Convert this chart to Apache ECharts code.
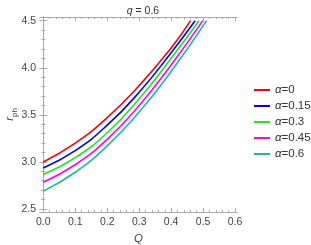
<!DOCTYPE html>
<html>
<head>
<meta charset="utf-8">
<script src="https://cdn.jsdelivr.net/npm/echarts@6/dist/echarts.min.js"></script>
<style>html,body{margin:0;padding:0;background:#fff}#c{width:311px;height:245px}</style>
</head>
<body>
<div id="c"></div>
<script>
// ---- data ----
const alphas = ['0', '0.15', '0.3', '0.45', '0.6'];
const qSamples = [0, 0.1, 0.2, 0.3, 0.4];
const rAlpha0 = [3.0, 3.20, 3.47, 3.81, 4.21];
const rAlpha015 = [2.936, 3.12, 3.39, 3.74, 4.16];
const rAlpha03 = [2.866, 3.045, 3.31, 3.67, 4.10];
const rAlpha045 = [2.785, 2.97, 3.24, 3.60, 4.03];
const rAlpha06 = [2.69, 2.89, 3.17, 3.53, 3.96];
const qEnd = [0.461, 0.475, 0.487, 0.499, 0.511];
const rEnd = 4.5;
const xMajor = [0, 0.1, 0.2, 0.3, 0.4, 0.5, 0.6];
const xMinor = [0.02,0.04,0.06,0.08,0.12,0.14,0.16,0.18,0.22,0.24,0.26,0.28,0.32,0.34,0.36,0.38,0.42,0.44,0.46,0.48,0.52,0.54,0.56,0.58];
const yMajor = [2.5, 3.0, 3.5, 4.0, 4.5];
const yMinor = [2.6,2.7,2.8,2.9,3.1,3.2,3.3,3.4,3.6,3.7,3.8,3.9,4.1,4.2,4.3,4.4];

const colors = ['#ff0000', '#0000ff', '#1ee61e', '#ff00ff', '#1fb3b3'];
const curves = [rAlpha0, rAlpha015, rAlpha03, rAlpha045, rAlpha06];

const X_MIN = -0.0103, X_MAX = 0.606, Y_MIN = 2.468, Y_MAX = 4.539;
const frameColor = '#aaaaaa';
const labelColor = '#444444';
const FONT = '"Liberation Sans", Arial, sans-serif';

function xAx(pos, vals, len, showLabel, name) {
  return {
    type: 'value', position: pos, min: X_MIN, max: X_MAX,
    axisLine: { show: true, lineStyle: { color: frameColor, width: 1 } },
    axisTick: { show: true, inside: true, length: len, customValues: vals, lineStyle: { color: frameColor } },
    axisLabel: showLabel ? { show: true, customValues: vals, margin: 5, color: labelColor, fontSize: 10.5, fontFamily: FONT,
      formatter: v => v.toFixed(1) } : { show: false },
    splitLine: { show: false },
    name: name || '', nameLocation: 'middle', nameGap: 19,
    nameTextStyle: { color: labelColor, fontSize: 11.5, fontFamily: FONT, fontStyle: 'italic' }
  };
}
function yAx(pos, vals, len, showLabel, name) {
  return {
    type: 'value', position: pos, min: Y_MIN, max: Y_MAX,
    axisLine: { show: true, lineStyle: { color: frameColor, width: 1 } },
    axisTick: { show: true, inside: true, length: len, customValues: vals, lineStyle: { color: frameColor } },
    axisLabel: showLabel ? { show: true, customValues: vals, margin: 4, color: labelColor, fontSize: 10.5, fontFamily: FONT,
      formatter: v => v.toFixed(1) } : { show: false },
    splitLine: { show: false },
    name: name || '', nameLocation: 'middle', nameGap: 21, nameRotate: 90, nameMoveOverlap: false,
    nameTextStyle: { color: labelColor, fontFamily: FONT,
      rich: { r: { fontSize: 11.5, fontStyle: 'italic', fontFamily: FONT, color: labelColor, padding: [0, 0, 3, 0] },
              s: { fontSize: 8, fontFamily: FONT, color: labelColor, verticalAlign: 'bottom' } } }
  };
}

const series = curves.map((arr, i) => ({
  name: 'α=' + alphas[i],
  type: 'line',
  xAxisIndex: 0, yAxisIndex: 0,
  data: qSamples.map((q, j) => [q, arr[j]]).concat([[qEnd[i], rEnd]]),
  smooth: 0.5,
  symbol: 'none',
  lineStyle: { color: colors[i], width: 1.6 },
  itemStyle: { color: colors[i] },
  z: 10 - i
}));

const chart = echarts.init(document.getElementById('c'), null, { renderer: 'canvas' });
chart.setOption({
  animation: false,
  backgroundColor: '#ffffff',
  title: {
    text: '{i|q} = 0.6', left: 138, top: 1, textAlign: 'center',
    textStyle: { fontSize: 10.5, fontWeight: 'normal', color: '#333', fontFamily: FONT,
      rich: { i: { fontStyle: 'italic', fontSize: 10.5, color: '#333', fontFamily: FONT } } }
  },
  grid: { left: 40, top: 17, width: 197, height: 195, containLabel: false, outerBoundsMode: 'none' },
  xAxis: [
    xAx('bottom', xMajor, 4, true, 'Q'),
    xAx('bottom', xMinor, 2, false),
    xAx('top', xMajor, 4, false),
    xAx('top', xMinor, 2, false)
  ],
  yAxis: [
    yAx('left', yMajor, 4, true, '{r|r}{s|ph}'),
    yAx('left', yMinor, 2, false),
    yAx('right', yMajor, 4, false),
    yAx('right', yMinor, 2, false)
  ],
  legend: {
    orient: 'vertical', left: 249, top: 79, itemGap: 4,
    itemWidth: 16, itemHeight: 2, icon: 'rect',
    data: series.map(s => s.name),
    formatter: name => '{i|α}' + name.slice(1),
    textStyle: { fontSize: 11.5, color: '#333', fontFamily: FONT,
      rich: { i: { fontStyle: 'italic', fontSize: 11.5, color: '#333', fontFamily: FONT } } }
  },
  series: series
});
</script>
</body>
</html>
